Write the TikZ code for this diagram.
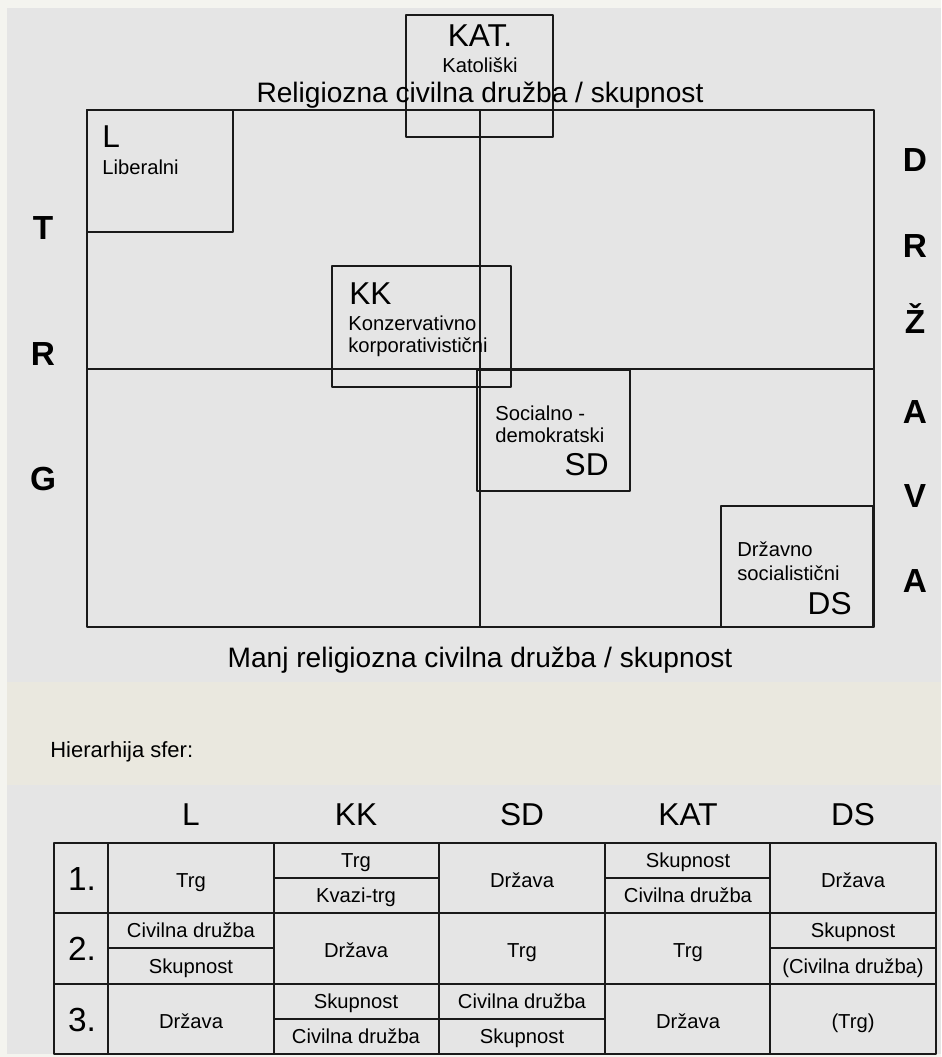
\documentclass[tikz,border=0pt]{standalone}
\usepackage{fontspec}
\setmainfont{Liberation Sans}
\definecolor{ozadje}{HTML}{E5E5E5}
\definecolor{pas}{HTML}{EAE8DF}
\definecolor{rob}{HTML}{F4F4EF}
\definecolor{crta}{HTML}{1A1A1A}
\tikzset{
  mali/.style={font=\fontsize{11.5}{13}\selectfont, inner sep=0pt, anchor=base west},
  veliki/.style={font=\fontsize{18}{20}\selectfont, inner sep=0pt, anchor=base west},
  naslov/.style={font=\fontsize{16}{18}\selectfont, inner sep=0pt, anchor=base},
  stran/.style={font=\fontsize{19}{21}\selectfont\bfseries, inner sep=0pt, anchor=base},
  celica/.style={font=\fontsize{11.5}{13}\selectfont, inner sep=0pt, anchor=base},
}
\begin{document}
\begin{tikzpicture}[x=0.02cm, y=-0.02cm, line join=round, draw=crta]
\useasboundingbox (0,0) rectangle (941,1057);
% ozadje
\fill[rob] (0,0) rectangle (941,1057);
\fill[ozadje] (7,8) rectangle (941,682);
\fill[pas] (7,682) rectangle (941,785);
\fill[ozadje] (7,785) rectangle (941,1054);
\path
 (87,110) coordinate (A)
 (874,110) coordinate (B)
 (874,627) coordinate (C)
 (87,627) coordinate (D)
 (87,369) coordinate (E)
 (874,369) coordinate (F)
 (480,110) coordinate (G)
 (480,627) coordinate (H)
 ;
\draw[line width=0.9pt] (A)--(B)--(C)--(D)--cycle;
\draw[line width=1.4pt] (A)--(B);
\draw[line width=1.4pt] (E)--(F);
\draw[line width=0.8pt] (G)--(H);
% skatle
\draw[line width=0.8pt] (406,15) rectangle (553,137);
\draw[line width=1pt] (87,110) rectangle (233,232);
\draw[line width=1pt] (332,266) rectangle (511,387);
\draw[line width=1.2pt] (477,370) rectangle (630,491);
\draw[line width=1pt] (721,506) rectangle (873,627);
% napisi v skatlah
\node[veliki, anchor=base] (kat) at (480,47) {KAT.};
\node[mali, anchor=base] (katoliski) at (480,73) {Katoliški};
\node[naslov] (rel) at (480,103) {Religiozna civilna družba / skupnost};
\node[veliki] (l) at (102,148) {L};
\node[mali] (liberalni) at (102,175) {Liberalni};
\node[veliki] (kk) at (349,304) {KK};
\node[mali] (konz) at (348,330) {Konzervativno};
\node[mali] (korp) at (348,352) {korporativistični};
\node[mali] (soc) at (495,420) {Socialno -};
\node[mali] (demo) at (495,442) {demokratski};
\node[veliki, anchor=base east] (sd) at (609,475) {SD};
\node[mali] (drz) at (737,556) {Državno};
\node[mali] (socia) at (737,580) {socialistični};
\node[veliki, anchor=base east] (ds) at (852,614) {DS};
\node[naslov] (manj) at (480,667) {Manj religiozna civilna družba / skupnost};
% trg in drzava ob strani
\foreach \y/\c [count=\i] in {240/T,365/R,490/G}
  \node[stran] (trg\i) at (43,\y) {\c};
\foreach \y/\c [count=\i] in {172/D,257/R,333/Ž,423/A,507/V,592/A}
  \node[stran] (drzava\i) at (915,\y) {\c};
% hierarhija
\node[mali, font=\fontsize{12.5}{14}\selectfont] (hier) at (50,757) {Hierarhija sfer:};
\foreach \x/\t in {191/L,356/KK,522/SD,688/KAT,853/DS}
  \node[veliki, anchor=base] (glava\t) at (\x,825) {\t};
\draw[line width=1.1pt] (54,843) rectangle (936,1054);
\foreach \x in {108,274,439,605,770}
  \draw[line width=1.1pt] (\x,843) -- (\x,1054);
\draw[line width=1.1pt] (54,913) -- (936,913);
\draw[line width=1.1pt] (54,984) -- (936,984);
\draw[line width=1pt] (274,878) -- (439,878);
\draw[line width=1pt] (605,878) -- (770,878);
\draw[line width=1pt] (108,948) -- (274,948);
\draw[line width=1pt] (770,948) -- (936,948);
\draw[line width=1pt] (274,1019) -- (605,1019);
\foreach \y/\t [count=\i] in {890/1.,960/2.,1031/3.}
  \node[veliki, font=\fontsize{19}{21}\selectfont, anchor=base] (vrsta\i) at (82,\y) {\t};
% cele celice
\foreach \x/\y/\t [count=\i] in {191/887/Trg,522/887/Država,853/887/Država,
    356/957/Država,522/957/Trg,688/957/Trg,
    191/1028/Država,688/1028/Država,853/1028/(Trg)}
  \node[celica] (cela\i) at (\x,\y) {\t};
% deljene celice
\foreach \x/\y/\t [count=\i] in {356/867/Trg,356/902/Kvazi-trg,
    688/867/Skupnost,688/902/Civilna družba,
    191/937/Civilna družba,191/973/Skupnost,
    853/937/Skupnost,853/973/(Civilna družba),
    356/1008/Skupnost,356/1043/Civilna družba,
    522/1008/Civilna družba,522/1043/Skupnost}
  \node[celica] (pol\i) at (\x,\y) {\t};
\end{tikzpicture}
\end{document}
